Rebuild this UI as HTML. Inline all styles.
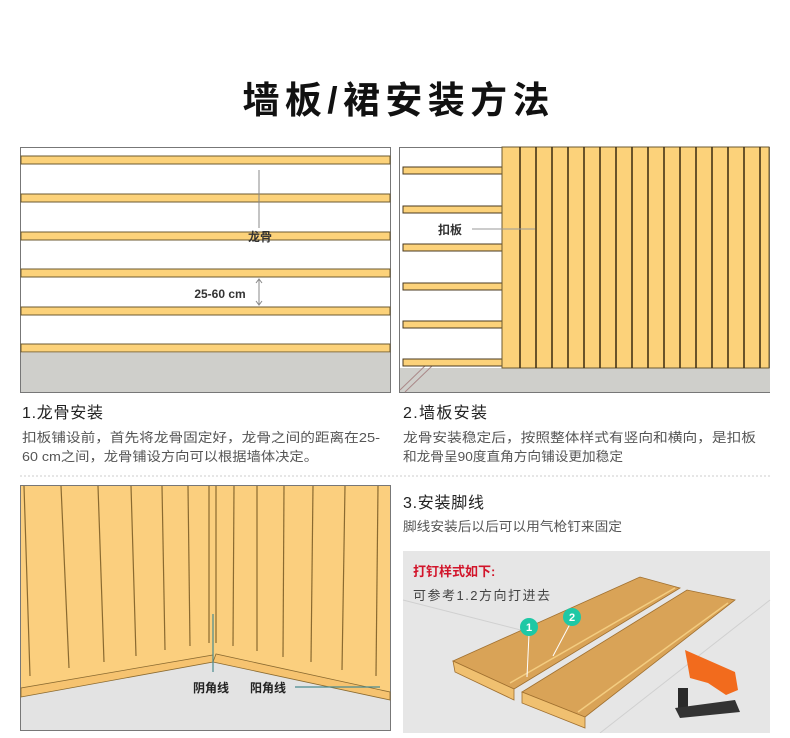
<!DOCTYPE html>
<html><head><meta charset="utf-8"><style>
html,body{margin:0;padding:0;background:#fff;}
svg text{font-family:"Liberation Sans","Noto Sans CJK SC",sans-serif;}
</style></head><body>
<svg width="790" height="733" viewBox="0 0 790 733" xmlns="http://www.w3.org/2000/svg">
<text x="396" y="113" text-anchor="middle" font-size="37" font-weight="bold" fill="#111" textLength="307" lengthAdjust="spacing">墙板/裙安装方法</text>

<!-- Panel 1 -->
<rect x="20.5" y="147.5" width="370" height="245" fill="#fff" stroke="#777"/>
<rect x="21" y="353" width="369" height="39" fill="#cfcfcb"/>
<g fill="#fcd27a" stroke="#6b5a30" stroke-width="1">
<rect x="21" y="156" width="369" height="8"/>
<rect x="21" y="194" width="369" height="8"/>
<rect x="21" y="232" width="369" height="8"/>
<rect x="21" y="269" width="369" height="8"/>
<rect x="21" y="307" width="369" height="8"/>
<rect x="21" y="344" width="369" height="8"/>
</g>
<line x1="259" y1="170" x2="259" y2="228" stroke="#888"/>
<text x="260" y="241" text-anchor="middle" font-size="12" font-weight="bold" fill="#333">龙骨</text>
<text x="220" y="298" text-anchor="middle" font-size="12" font-weight="bold" fill="#333">25-60 cm</text>
<line x1="259" y1="280" x2="259" y2="304" stroke="#888"/>
<path d="M256,283 L259,279 L262,283 M256,301 L259,305 L262,301" fill="none" stroke="#888"/>

<!-- Panel 2 -->
<rect x="399.5" y="147.5" width="370" height="245" fill="#fff" stroke="#777"/>
<rect x="400" y="368" width="370" height="24" fill="#cfcfcb"/>
<line x1="400" y1="390" x2="428" y2="363" stroke="#a88"/>
<line x1="405" y1="392" x2="432" y2="366" stroke="#a88"/>
<g fill="#fcd27a" stroke="#4a3a20" stroke-width="1">
<rect x="403" y="167" width="100" height="7"/>
<rect x="403" y="206" width="100" height="7"/>
<rect x="403" y="244" width="100" height="7"/>
<rect x="403" y="283" width="100" height="7"/>
<rect x="403" y="321" width="100" height="7"/>
<rect x="403" y="359" width="100" height="7"/>
</g>
<rect x="502" y="147" width="267" height="221" fill="#fcd27a" stroke="#6b5a30"/>
<g stroke="#3a2a10" stroke-width="1.5">
<line x1="520" y1="147" x2="520" y2="368"/><line x1="536" y1="147" x2="536" y2="368"/>
<line x1="552" y1="147" x2="552" y2="368"/><line x1="568" y1="147" x2="568" y2="368"/>
<line x1="584" y1="147" x2="584" y2="368"/><line x1="600" y1="147" x2="600" y2="368"/>
<line x1="616" y1="147" x2="616" y2="368"/><line x1="632" y1="147" x2="632" y2="368"/>
<line x1="648" y1="147" x2="648" y2="368"/><line x1="664" y1="147" x2="664" y2="368"/>
<line x1="680" y1="147" x2="680" y2="368"/><line x1="696" y1="147" x2="696" y2="368"/>
<line x1="712" y1="147" x2="712" y2="368"/><line x1="728" y1="147" x2="728" y2="368"/>
<line x1="744" y1="147" x2="744" y2="368"/><line x1="760" y1="147" x2="760" y2="368"/>
</g>
<line x1="472" y1="229" x2="535" y2="229" stroke="#999"/>
<text x="450" y="234" text-anchor="middle" font-size="12" font-weight="bold" fill="#333">扣板</text>

<!-- text blocks -->
<text x="22" y="418" font-size="16" fill="#222" textLength="81">1.龙骨安装</text>
<text x="22" y="442" font-size="13" fill="#555" textLength="358" lengthAdjust="spacingAndGlyphs">扣板铺设前，首先将龙骨固定好，龙骨之间的距离在25-</text>
<text x="22" y="461" font-size="13" fill="#555" textLength="296" lengthAdjust="spacingAndGlyphs">60 cm之间，龙骨铺设方向可以根据墙体决定。</text>
<text x="403" y="418" font-size="16" fill="#222" textLength="84">2.墙板安装</text>
<text x="403" y="442" font-size="13" fill="#555" textLength="353" lengthAdjust="spacingAndGlyphs">龙骨安装稳定后，按照整体样式有竖向和横向，是扣板</text>
<text x="403" y="461" font-size="13" fill="#555" textLength="220" lengthAdjust="spacingAndGlyphs">和龙骨呈90度直角方向铺设更加稳定</text>
<line x1="20" y1="476" x2="770" y2="476" stroke="#ccc" stroke-dasharray="2,2"/>

<!-- Panel 3 -->
<rect x="20.5" y="485.5" width="370" height="245" fill="#e3e3e3" stroke="#777"/>
<polygon points="21,486 390,486 390,700 213,662 21,697" fill="#fbcf7e"/>
<polygon points="21,697 213,662 213,655 21,688" fill="#f6c370" stroke="#8a6a30" stroke-width="0.8"/>
<polygon points="213,662 390,700 390,692 216,654" fill="#f6c370" stroke="#8a6a30" stroke-width="0.8"/>
<g stroke="#8a6a30" stroke-width="1.2">
<line x1="24" y1="486" x2="30" y2="676"/><line x1="61" y1="486" x2="69" y2="668"/>
<line x1="98" y1="486" x2="104" y2="662"/><line x1="131" y1="486" x2="136" y2="656"/>
<line x1="162" y1="486" x2="165" y2="650"/><line x1="188" y1="486" x2="190" y2="646"/>
<line x1="209" y1="486" x2="209" y2="643"/><line x1="216" y1="486" x2="216" y2="643"/>
<line x1="234" y1="486" x2="233" y2="646"/><line x1="257" y1="486" x2="257" y2="651"/>
<line x1="284" y1="486" x2="283" y2="657"/><line x1="313" y1="486" x2="311" y2="662"/>
<line x1="345" y1="486" x2="342" y2="670"/><line x1="378" y1="486" x2="376" y2="676"/>
</g>
<line x1="213" y1="614" x2="213" y2="672" stroke="#4a8a90" stroke-width="1.2"/>
<line x1="295" y1="687" x2="380" y2="687" stroke="#4a8a90" stroke-width="1.2"/>
<text x="211" y="692" text-anchor="middle" font-size="12" font-weight="bold" fill="#222">阴角线</text>
<text x="268" y="692" text-anchor="middle" font-size="12" font-weight="bold" fill="#222">阳角线</text>

<!-- Panel 4 -->
<text x="403" y="508" font-size="16" fill="#222" textLength="81">3.安装脚线</text>
<text x="403" y="531" font-size="13" fill="#555" textLength="219" lengthAdjust="spacingAndGlyphs">脚线安装后以后可以用气枪钉来固定</text>
<rect x="403" y="551" width="367" height="182" fill="#e6e6e6"/>
<line x1="403" y1="600" x2="560" y2="640" stroke="#d0d0d0"/>
<line x1="600" y1="733" x2="770" y2="600" stroke="#d0d0d0"/>
<polygon points="453,661 640,577 680,588 514,689" fill="#d9a357" stroke="#a07030" stroke-width="0.8"/>
<polygon points="453,661 514,689 514,700 455,672" fill="#f0c070" stroke="#a07030" stroke-width="0.8"/>
<polygon points="522,692 687,590 735,600 585,717" fill="#d9a357" stroke="#a07030" stroke-width="0.8"/>
<polygon points="522,692 585,717 585,728 522,703" fill="#f0c070" stroke="#a07030" stroke-width="0.8"/>
<line x1="510" y1="683" x2="675" y2="588" stroke="#f3cc80" stroke-width="1.5"/>
<line x1="578" y1="712" x2="728" y2="603" stroke="#f3cc80" stroke-width="1.5"/>
<line x1="529" y1="634" x2="527" y2="677" stroke="#fff"/>
<line x1="570" y1="624" x2="553" y2="656" stroke="#fff"/>
<circle cx="529" cy="627" r="9" fill="#1ec8a5"/><text x="529" y="631" text-anchor="middle" font-size="11" fill="#fff" font-weight="bold">1</text>
<circle cx="572" cy="617" r="9" fill="#1ec8a5"/><text x="572" y="621" text-anchor="middle" font-size="11" fill="#fff" font-weight="bold">2</text>
<path d="M685,650 L735,672 L738,690 L726,695 L708,683 L690,678 Z" fill="#f26b1d"/>
<rect x="678" y="688" width="10" height="22" fill="#2a2a2a"/>
<path d="M675,708 L735,700 L740,712 L680,718 Z" fill="#333"/>
<text x="413" y="576" font-size="13" font-weight="bold" fill="#d2142a">打钉样式如下:</text>
<text x="413" y="600" font-size="13" fill="#444" textLength="137">可参考1.2方向打进去</text>
</svg>
</body></html>
